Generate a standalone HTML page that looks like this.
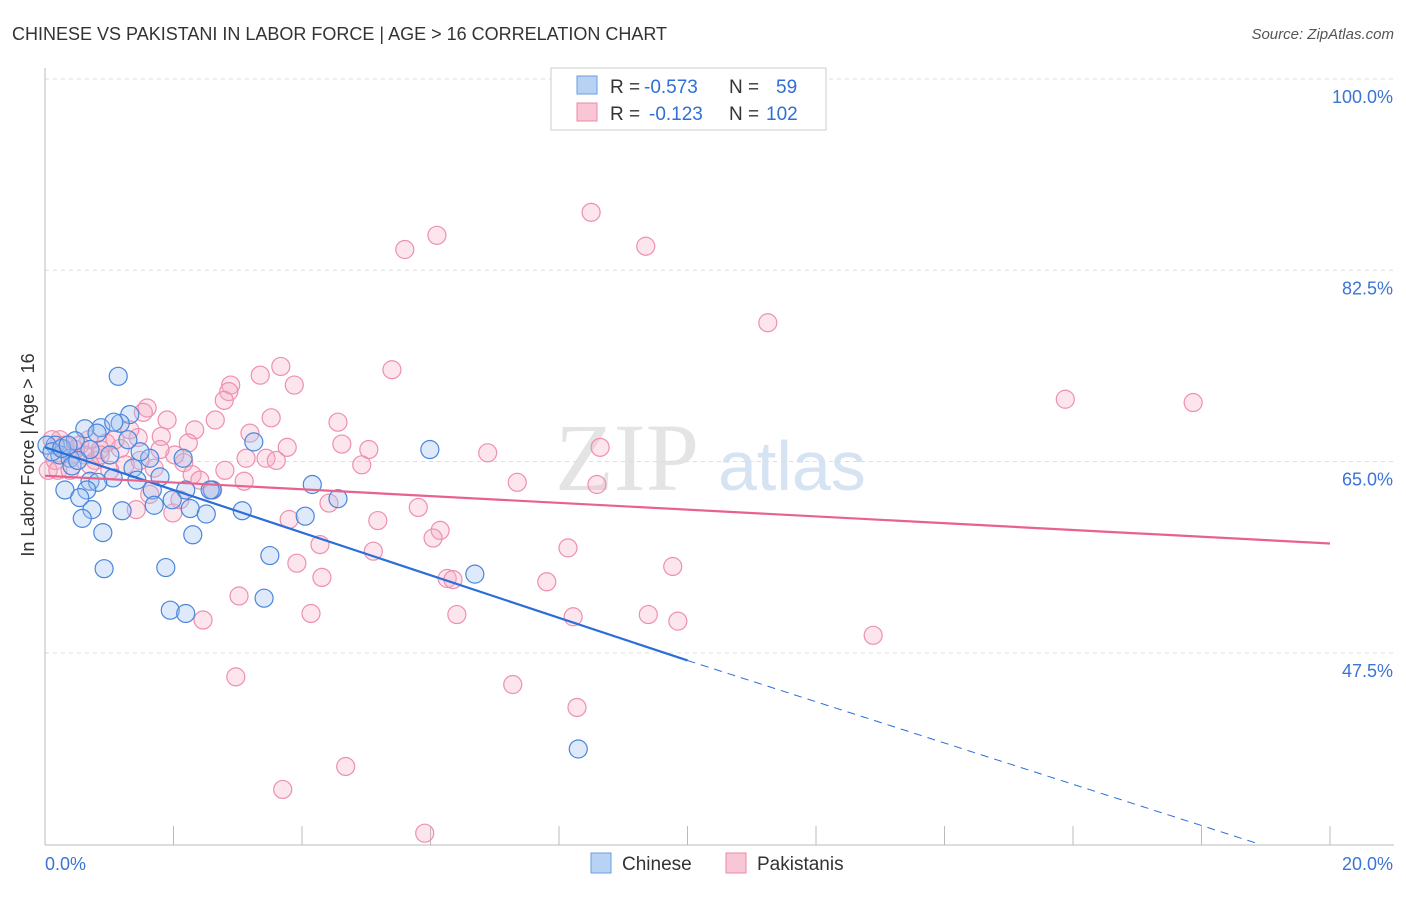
<!DOCTYPE html>
<html><head><meta charset="utf-8"><style>
body{margin:0;background:#fff;width:1406px;height:892px;overflow:hidden;font-family:"Liberation Sans",sans-serif}
</style></head><body>
<svg id="chart" width="1406" height="892" xmlns="http://www.w3.org/2000/svg">
<text x="12" y="40" font-size="18" fill="#333">CHINESE VS PAKISTANI IN LABOR FORCE | AGE &gt; 16 CORRELATION CHART</text>
<text x="1394" y="39" font-size="15" fill="#555" font-style="italic" text-anchor="end">Source: ZipAtlas.com</text>
<text x="555" y="490" font-size="96" fill="#e4e4e4" font-family="Liberation Serif">ZIP</text>
<text x="718" y="490" font-size="70" fill="#d6e3f3">atlas</text>
<g id="grid"></g><g id="axes"></g><g id="pts"></g><g id="trend"></g>
<text x="34" y="455" font-size="18" fill="#333" text-anchor="middle" transform="rotate(-90 34 455)">In Labor Force | Age &gt; 16</text>
<g>
<rect x="551" y="68" width="275" height="62" fill="#fff" stroke="#ccc"/>
<rect x="577" y="76" width="20" height="18" fill="#b8d2f3" stroke="#6a9ee0"/>
<rect x="577" y="103" width="20" height="18" fill="#f9c6d5" stroke="#e88aa6"/>
<text x="610" y="93" font-size="19" fill="#333">R =</text>
<text x="644" y="93" font-size="19" fill="#2f6fd6">-0.573</text>
<text x="729" y="93" font-size="19" fill="#333">N =</text>
<text x="776" y="93" font-size="19" fill="#2f6fd6">59</text>
<text x="610" y="120" font-size="19" fill="#333">R =</text>
<text x="649" y="120" font-size="19" fill="#2f6fd6">-0.123</text>
<text x="729" y="120" font-size="19" fill="#333">N =</text>
<text x="766" y="120" font-size="19" fill="#2f6fd6">102</text>
</g>
<g>
<rect x="591" y="853" width="20" height="20" fill="#b8d2f3" stroke="#6a9ee0"/>
<text x="622" y="870" font-size="19" fill="#333">Chinese</text>
<rect x="726" y="853" width="20" height="20" fill="#f9c6d5" stroke="#e88aa6"/>
<text x="757" y="870" font-size="19" fill="#333">Pakistanis</text>
</g>
</svg>
<script>
const blueX=[1.14,1.32,1.17,0.87,0.62,0.81,1.07,0.47,0.70,0.16,0.23,0.39,1.01,1.63,2.15,3.25,5.99,1.37,1.79,1.06,1.43,0.42,0.70,0.82,0.31,0.65,1.67,0.54,2.19,2.60,1.98,1.70,2.26,1.20,0.73,2.51,3.07,0.58,4.05,4.16,4.56,0.90,2.30,3.50,0.92,1.88,6.69,3.41,1.95,2.19,8.30,0.03,0.11,0.26,0.51,0.36,1.48,1.29,2.57];
const blueY=[72.8,69.3,68.5,68.1,68.0,67.6,68.6,66.9,66.1,66.5,65.6,65.3,65.6,65.3,65.3,66.8,66.1,64.4,63.6,63.5,63.3,64.6,63.2,63.1,62.4,62.4,62.4,61.7,62.4,62.4,61.5,61.0,60.7,60.5,60.6,60.2,60.5,59.8,60.0,62.9,61.6,58.5,58.3,56.4,55.2,55.3,54.7,52.5,51.4,51.1,38.7,66.5,65.9,66.2,65.1,66.5,65.9,67.0,62.4];
const pinkX=[8.50,6.10,5.60,9.35,11.25,3.67,5.40,3.35,2.89,3.88,2.86,2.79,1.59,1.53,1.90,2.65,3.52,4.56,15.88,17.87,2.33,3.19,1.81,2.23,1.45,0.68,0.95,3.77,4.62,5.04,6.89,8.64,3.13,3.44,3.60,4.93,2.16,1.70,2.29,3.10,7.35,8.59,2.61,1.63,1.99,1.42,4.42,5.81,3.80,5.18,6.15,6.04,4.28,5.11,8.14,3.92,4.31,6.26,6.35,7.81,9.77,3.02,4.14,2.46,6.41,8.22,9.39,9.85,12.89,2.97,7.28,8.28,4.68,3.70,5.91,0.05,0.16,0.23,0.31,0.42,0.54,0.78,0.86,1.17,1.25,0.20,0.62,1.01,1.32,2.02,2.41,0.11,0.39,1.09,2.80,1.79,0.31,0.86,1.48,0.47,0.70,2.10];
const pinkY=[87.8,85.7,84.4,84.7,77.7,73.7,73.4,72.9,72.0,72.0,71.4,70.6,69.9,69.5,68.8,68.8,69.0,68.6,70.7,70.4,67.9,67.6,67.3,66.7,67.2,67.0,66.7,66.3,66.6,66.1,65.8,66.3,65.3,65.3,65.1,64.7,64.9,64.4,63.8,63.2,63.1,62.9,62.4,62.0,60.3,60.6,61.2,60.8,59.7,59.6,58.7,58.0,57.4,56.8,57.1,55.7,54.4,54.3,54.2,54.0,55.4,52.7,51.1,50.5,51.0,50.8,51.0,50.4,49.1,45.3,44.6,42.5,37.1,35.0,31.0,64.2,65.1,67.0,66.1,65.6,66.5,65.1,66.1,66.2,64.7,64.2,65.6,64.2,67.9,65.6,63.3,67.0,64.2,67.0,64.2,66.1,66.5,65.6,65.1,66.1,64.7,61.5];
const yTicks=[100,82.5,65,47.5];
const yTickLabels=["100.0%","82.5%","65.0%","47.5%"];
const blueTrend=[[0,66.3],[10,46.8],[18.9,30.0]];
const pinkTrend=[[0,63.7],[20,57.5]];
const NS="http://www.w3.org/2000/svg";
const sx=v=>45+v*64.25, sy=v=>79+(100-v)*10.93;
function mk(parent,tag,attrs){const e=document.createElementNS(NS,tag);for(const k in attrs)e.setAttribute(k,attrs[k]);document.getElementById(parent).appendChild(e);return e;}
yTicks.forEach((t,i)=>{
 const g=mk('grid','line',{x1:45,x2:1394,y1:sy(t),y2:sy(t),stroke:'#ddd','stroke-dasharray':'4,4'});
 
 
 const l=mk('axes','text',{x:1393,y:sy(t)+24,'font-size':18,fill:'#3b74d4','text-anchor':'end'});
 l.textContent=yTickLabels[i];
 
 
});
mk('axes','line',{x1:45,x2:45,y1:68,y2:845,stroke:'#bbb'});
mk('axes','line',{x1:45,x2:1394,y1:845,y2:845,stroke:'#bbb'});
for(let i=0;i<=10;i++){const t=mk('axes','line',{x1:sx(i*2),x2:sx(i*2),y1:826,y2:845,stroke:'#bbb'});
 
 }
const x0=mk('axes','text',{x:45,y:870,'font-size':18,fill:'#3b74d4'});x0.textContent='0.0%';


const x1=mk('axes','text',{x:1393,y:870,'font-size':18,fill:'#3b74d4','text-anchor':'end'});x1.textContent='20.0%';


pinkX.forEach((x,i)=>{const c=mk('pts','circle',{cx:sx(x),cy:sy(pinkY[i]),r:9,fill:'rgba(246,170,195,0.3)',stroke:'#ef8fae','stroke-width':1.2});
 
 });
blueX.forEach((x,i)=>{const c=mk('pts','circle',{cx:sx(x),cy:sy(blueY[i]),r:9,fill:'rgba(160,196,240,0.35)',stroke:'#4a86dc','stroke-width':1.2});
 
 });
const bt=mk('trend','line',{x1:sx(blueTrend[0][0]),y1:sy(blueTrend[0][1]),x2:sx(blueTrend[1][0]),y2:sy(blueTrend[1][1]),stroke:'#2a6fd8','stroke-width':2.2});


const bd=mk('trend','line',{x1:sx(blueTrend[1][0]),y1:sy(blueTrend[1][1]),x2:sx(blueTrend[2][0]),y2:sy(blueTrend[2][1]),stroke:'#2a6fd8','stroke-width':1,'stroke-dasharray':'8,6'});


const pt=mk('trend','line',{x1:sx(pinkTrend[0][0]),y1:sy(pinkTrend[0][1]),x2:sx(pinkTrend[1][0]),y2:sy(pinkTrend[1][1]),stroke:'#e8628e','stroke-width':2.2});


</script>
</body></html>
